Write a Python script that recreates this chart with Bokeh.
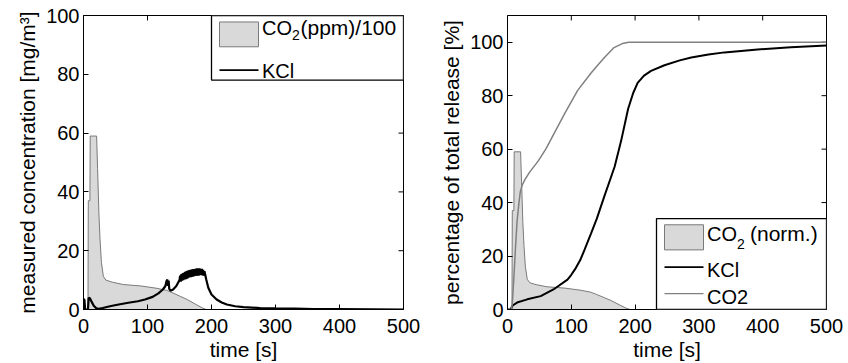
from bokeh.plotting import figure
from bokeh.layouts import row
from bokeh.models import Range1d, FixedTicker, BoxAnnotation, Label
from bokeh.embed import file_html
from bokeh.resources import INLINE

FONT = "Liberation Sans"

# ---------------- data ----------------
x_ticks = [0, 100, 200, 300, 400, 500]
y_ticks = [0, 20, 40, 60, 80, 100]

# CO2 (ppm)/100  (same normalised shape in both panels)
co2_t = [0, 7, 7.5, 10, 10.5, 20.5, 22, 24, 25.8, 28, 31, 35, 45, 62, 90,
         115, 130, 140, 150, 162, 175, 186, 192]
co2_v = [0, 0, 37, 37, 59, 59, 48, 33, 24, 16, 11.3, 10, 9.3, 8.5, 8.0,
         7.2, 6.5, 5.6, 4.6, 3.4, 1.8, 0.5, 0]

# KCl measured concentration [mg/m3]
kcl_t = [0, 1.5, 2.5, 7, 8, 10, 13, 16, 20, 24, 30, 43, 55, 70, 85, 96, 108,
         117, 124, 128, 129.5, 131, 132, 133, 134, 136, 140, 145, 150,
         151, 152, 153, 154, 155, 156, 157, 158, 159, 160, 161, 162, 163, 164,
         165, 166, 167, 168, 169, 170, 171, 172, 173, 174, 175, 176, 177, 178,
         179, 180, 181, 182, 183, 184, 185, 186, 187, 188, 189,
         190, 192, 195, 200, 208, 216, 224, 237, 250, 276, 300, 330, 360,
         400, 450, 500]
kcl_v = [3.5, 3.3, 0, 0, 4, 3.8, 2.5, 1.3, 0.4, 0.2, 0.5, 1.2, 1.7, 2.3, 2.8,
         3.4, 4.3, 5.5, 6.8, 8, 9.5, 10.2, 8, 9.8, 7, 6.4, 6.8, 8, 10,
         11.5, 9.5, 12, 9.8, 12.3, 10, 12.5, 10.2, 12.8, 10.3, 13, 10.5, 13.2,
         10.8, 13.3, 11, 13.5, 11, 13.6, 11.2, 13.7, 11.3, 13.6, 11.5, 13.8,
         11.5, 14, 11.6, 13.8, 11.6, 14, 11.8, 13.8, 11.8, 13.8, 11.6, 13.5,
         11.5, 13,
         12, 10, 7.4, 5.1, 3.4, 2.4, 1.7, 1.1, 0.8, 0.5, 0.4, 0.3, 0.15,
         0.1, 0.05, 0]

# envelope of the noisy KCl band (150-190 s)
band_t = [151, 155, 160, 165, 170, 175, 180, 185, 189]
band_lo = [10.0, 10.3, 10.6, 11.0, 11.2, 11.5, 11.6, 11.7, 11.5]
band_hi = [11.5, 12.3, 12.9, 13.3, 13.6, 13.8, 13.9, 13.8, 13.0]

# cumulative release [%]
kcl_cum_t = [0, 4.7, 8, 15, 31, 52, 72, 94, 100, 107, 114, 121, 131, 140,
             152, 160, 168, 178, 189, 197, 204, 214, 225, 246, 270, 288, 315,
             340, 392, 444, 500]
kcl_cum_v = [0, 0, 1.5, 2.6, 3.8, 5.0, 7.5, 11.2, 13, 15.5, 18.5, 22.5, 28.5,
             34, 42.5, 48, 53.5, 63, 75, 81, 84.8, 87.5, 89.3, 91.4, 93.2,
             94.3, 95.4, 96.2, 97.3, 98.1, 98.8]
co2_cum_t = [0, 6, 7.5, 10, 12.5, 15, 18, 20, 23, 27, 35, 48, 60, 70, 90, 110,
             131, 141, 152, 167, 180, 190, 500]
co2_cum_v = [0, 0, 2, 12, 23, 33, 40, 44, 46.5, 48.5, 51.5, 55.5, 60, 64.5,
             73.5, 82, 88.5, 91.3, 94.3, 98, 99.5, 100, 100]

AREA_FILL = "#d9d9d9"
AREA_LINE = "#7a7a7a"
GRAY_LINE = "#808080"

FIG_W, FIG_H = 424, 363
FRAME_TOP, FRAME_BOTTOM = 15, 311   # page px
TICK_LEN = 5


def style_axis(ax):
    ax.major_tick_in = TICK_LEN
    ax.major_tick_out = 0
    ax.minor_tick_line_color = None
    ax.axis_line_color = "black"
    ax.major_tick_line_color = "black"
    ax.major_label_text_font = FONT
    ax.major_label_text_color = "black"
    ax.major_label_text_font_size = "20px"
    ax.major_label_text_line_height = 1.0
    ax.axis_label_text_font = FONT
    ax.axis_label_text_font_size = "21px"
    ax.axis_label_text_font_style = "normal"
    ax.axis_label_text_color = "black"
    ax.axis_label_text_line_height = 1.0


def make_fig(ymax, fig_left, frame_left, frame_right, ylabel):
    bl = frame_left - fig_left
    fw = frame_right - frame_left
    br = FIG_W - bl - fw
    bt = FRAME_TOP
    bb = FIG_H - bt - (FRAME_BOTTOM - FRAME_TOP)
    p = figure(width=FIG_W, height=FIG_H, x_range=Range1d(0, 500),
               y_range=Range1d(0, ymax), output_backend="svg",
               toolbar_location=None, min_border_left=bl, min_border_right=br,
               min_border_top=bt, min_border_bottom=bb)
    p.xgrid.visible = False
    p.ygrid.visible = False
    p.outline_line_color = "black"
    p.outline_line_alpha = 1
    p.background_fill_color = "white"
    p.border_fill_color = "white"
    p.xaxis.ticker = FixedTicker(ticks=x_ticks)
    p.yaxis.ticker = FixedTicker(ticks=y_ticks)
    for ax in p.xaxis:
        style_axis(ax)
        ax.axis_label = "time [s]"
        ax.major_label_standoff = 9
        ax.axis_label_standoff = 2
    for ax in p.yaxis:
        style_axis(ax)
        ax.axis_label = ylabel
        ax.major_label_standoff = 4
        ax.axis_label_standoff = 4
    # inward ticks on the top and right edges of the box
    dy = TICK_LEN * ymax / (FRAME_BOTTOM - FRAME_TOP)
    dx = TICK_LEN * 500 / fw
    p.segment(x0=x_ticks, y0=[ymax] * len(x_ticks), x1=x_ticks,
              y1=[ymax - dy] * len(x_ticks), line_color="black", line_width=1)
    p.segment(x0=[500] * len(y_ticks), y0=y_ticks, x1=[500 - dx] * len(y_ticks),
              y1=y_ticks, line_color="black", line_width=1)
    return p


def legend_tools(frame_left, frame_right, ymax):
    def X(px):
        return (px - frame_left) / (frame_right - frame_left) * 500

    def Y(py):
        return (FRAME_BOTTOM - py) / (FRAME_BOTTOM - FRAME_TOP) * ymax
    return X, Y


def add_box(p, X, Y, l, r, t, b, fill, line, lw=1, line_alpha=1.0):
    p.add_layout(BoxAnnotation(left=X(l), right=X(r), top=Y(t), bottom=Y(b),
                               fill_color=fill, fill_alpha=1, line_color=line,
                               line_alpha=line_alpha, line_width=lw))


def add_text(p, X, Y, px, baseline, text, size=20, color="black"):
    # positioned by the middle of the text box (baseline - 0.35 * size)
    p.add_layout(Label(x=X(px), y=Y(baseline - 0.35 * size), text=text,
                       text_font=FONT, text_font_size=f"{size}px",
                       text_color=color, text_baseline="middle",
                       text_align="left"))


# ---------------- left panel ----------------
L_FL, L_FR = 83, 403
p1 = make_fig(100, 0, L_FL, L_FR, "measured concentration [mg/m³]")
p1.patch(co2_t, co2_v, fill_color=AREA_FILL, line_color=AREA_LINE, line_width=1)
p1.varea(x=band_t, y1=band_lo, y2=band_hi, fill_color="black")
p1.line(kcl_t, kcl_v, line_color="black", line_width=2.2)

X1, Y1 = legend_tools(L_FL, L_FR, 100)
add_box(p1, X1, Y1, 211, 403, 15, 80, "white", "black", lw=1.3)
add_box(p1, X1, Y1, 219, 258, 21.5, 46.5, AREA_FILL, AREA_LINE)
add_text(p1, X1, Y1, 261.5, 34.5, "CO")
add_text(p1, X1, Y1, 291.5, 40, "2", size=14)
add_text(p1, X1, Y1, 300, 34.5, "(ppm)/100", size=21)
add_box(p1, X1, Y1, 219, 258, 69.2, 70.8, "black", "black", lw=0.5, line_alpha=0)
add_text(p1, X1, Y1, 261.5, 77.5, "KCl")

# ---------------- right panel ----------------
R_FL, R_FR = 507, 826
p2 = make_fig(110, 424, R_FL, R_FR, "percentage of total release [%]")
p2.patch(co2_t, co2_v, fill_color=AREA_FILL, line_color=AREA_LINE, line_width=1)
p2.line(kcl_cum_t, kcl_cum_v, line_color="black", line_width=2)
p2.line(co2_cum_t, co2_cum_v, line_color=GRAY_LINE, line_width=1.5)

X2, Y2 = legend_tools(R_FL, R_FR, 110)
add_box(p2, X2, Y2, 656, 826, 219.5, 311, "white", "black", lw=1.3)
add_box(p2, X2, Y2, 664, 703, 225.7, 251, AREA_FILL, AREA_LINE)
add_text(p2, X2, Y2, 706.5, 241.7, "CO")
add_text(p2, X2, Y2, 736.5, 250, "2", size=14)
add_text(p2, X2, Y2, 749.5, 241.7, "(norm.)", size=21)
add_box(p2, X2, Y2, 664, 703, 267.5, 269.1, "black", "black", lw=0.5, line_alpha=0)
add_text(p2, X2, Y2, 706.5, 278, "KCl")
add_box(p2, X2, Y2, 664, 703, 294.3, 295.7, GRAY_LINE, GRAY_LINE, lw=0.5, line_alpha=0)
add_text(p2, X2, Y2, 706.5, 305, "CO2")

layout = row(p1, p2)
open("out.html", "w").write(file_html(layout, INLINE))
